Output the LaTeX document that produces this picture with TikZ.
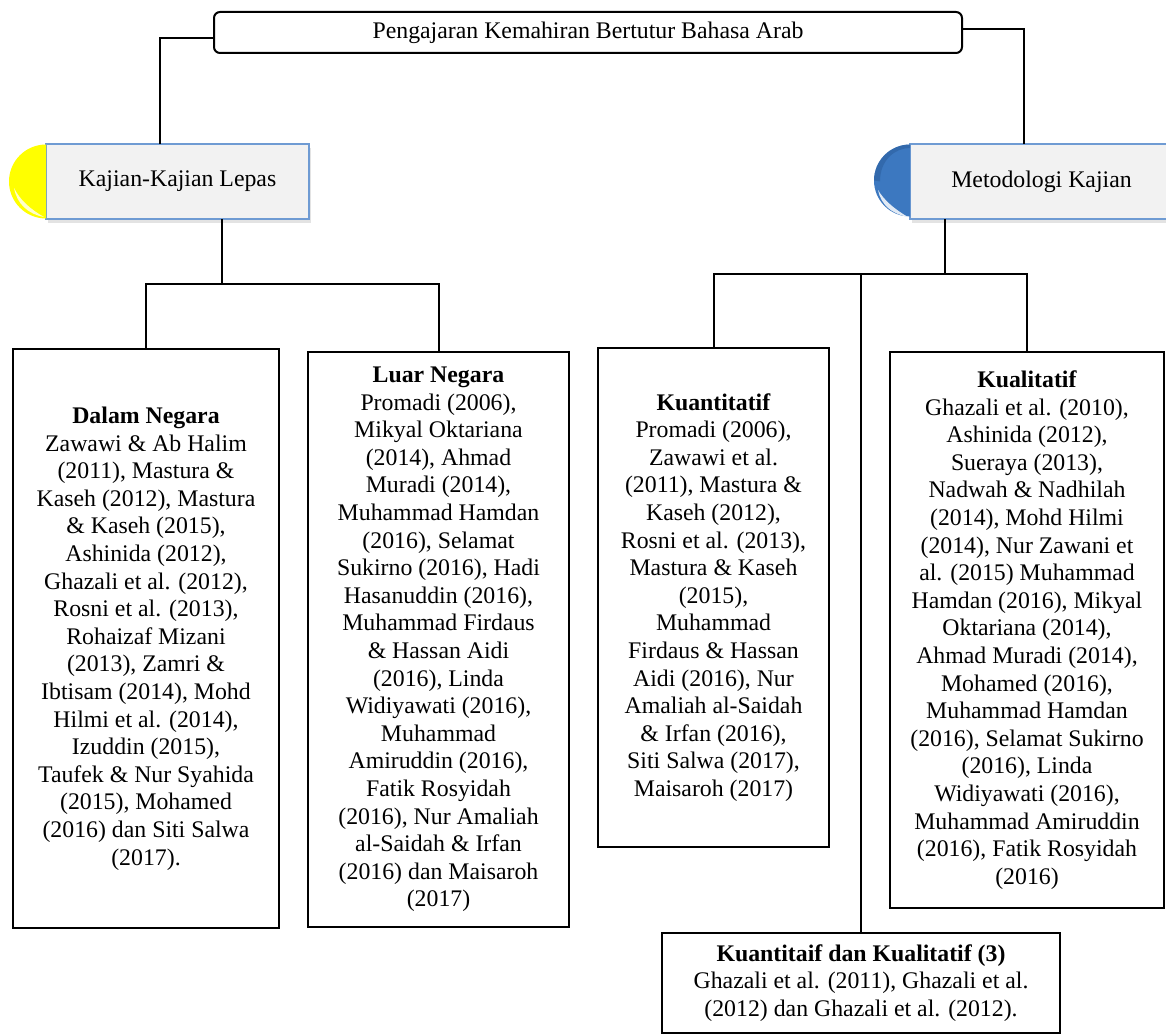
\documentclass[tikz,border=0pt]{standalone}
\usepackage{fontspec}
\setmainfont{Liberation Serif}
\usetikzlibrary{shadows}
\definecolor{boxgray}{HTML}{F2F2F2}
\definecolor{boxblue}{HTML}{6F9BD3}
\definecolor{capblue}{HTML}{3C78C0}
\definecolor{capbluedark}{HTML}{2A5C9A}
\definecolor{capyellow}{HTML}{FFFF00}
\newcommand{\bodyfont}{\fontsize{23.8}{27.6}\selectfont}

\begin{document}
\begin{tikzpicture}[x=1pt,y=-1pt,
  refbox/.style={draw, line width=2pt, align=center, inner sep=0pt, font=\bodyfont},
  capbox/.style={draw=boxblue, line width=1.3pt, fill=boxgray, font=\bodyfont, inner sep=0pt,
    minimum width=263pt, minimum height=75pt,
    drop shadow={opacity=0.22, shadow xshift=2pt, shadow yshift=-4pt}},
  conn/.style={line width=2pt}]
\useasboundingbox (0,0) rectangle (1166,1035);
\fill[white] (0,0) rectangle (1166,1035);
\clip (0,0) rectangle (1166,1035);

% top box
\node[refbox, rounded corners=6pt, minimum width=748pt, minimum height=41pt] (top) at (588,32.5)
  {Pengajaran Kemahiran Bertutur Bahasa Arab};

% category boxes
\node[capbox] (kaj) at (177.5,181.5) {Kajian-Kajian Lepas};
\node[capbox] (met) at (1041.5,181.5) {Metodologi Kajian};

% yellow cap
\fill[capyellow] (46,144.5) arc[start angle=-90, end angle=-270, radius=37];
\fill[white, opacity=0.8] (14,188) .. controls (17,204) and (28,214) .. (44,217)
  .. controls (30,209) and (20,200) .. (14,188) -- cycle;
% blue cap
\fill[capblue] (910,144.5) arc[start angle=-90, end angle=-270, radius=36];
\fill[capbluedark, opacity=0.5] (910,144.5) arc[start angle=-90, end angle=-180, radius=36]
  -- (880,181.5) .. controls (880,160) and (895,148) .. (910,148) -- cycle;
\fill[white, opacity=0.85] (878,190) .. controls (881,205) and (892,214) .. (908,217)
  .. controls (894,209) and (884,200) .. (878,190) -- cycle;

% content boxes
\node[refbox, minimum width=266pt, minimum height=579pt] (dalam) at (146,638.5)
  {\textbf{Dalam Negara}\\Zawawi \& Ab Halim\\(2011), Mastura \&\\Kaseh (2012), Mastura\\\& Kaseh (2015),\\Ashinida (2012),\\Ghazali et al. (2012),\\Rosni et al. (2013),\\Rohaizaf Mizani\\(2013), Zamri \&\\Ibtisam (2014), Mohd\\Hilmi et al. (2014),\\Izuddin (2015),\\Taufek \& Nur Syahida\\(2015), Mohamed\\(2016) dan Siti Salwa\\(2017).};

\node[refbox, minimum width=261pt, minimum height=575pt] (luar) at (438.5,639.5)
  {\textbf{Luar Negara}\\Promadi (2006),\\Mikyal Oktariana\\(2014), Ahmad\\Muradi (2014),\\Muhammad Hamdan\\(2016), Selamat\\Sukirno (2016), Hadi\\Hasanuddin (2016),\\Muhammad Firdaus\\\& Hassan Aidi\\(2016), Linda\\Widiyawati (2016),\\Muhammad\\Amiruddin (2016),\\Fatik Rosyidah\\(2016), Nur Amaliah\\al-Saidah \& Irfan\\(2016) dan Maisaroh\\(2017)};

\node[refbox, minimum width=231pt, minimum height=499pt] (kuan) at (713.5,597.5)
  {\textbf{Kuantitatif}\\Promadi (2006),\\Zawawi et al.\\(2011), Mastura \&\\Kaseh (2012),\\Rosni et al. (2013),\\Mastura \& Kaseh\\(2015),\\Muhammad\\Firdaus \& Hassan\\Aidi (2016), Nur\\Amaliah al-Saidah\\\& Irfan (2016),\\Siti Salwa (2017),\\Maisaroh (2017)};

\node[refbox, minimum width=274pt, minimum height=556pt] (kual) at (1027,630)
  {\textbf{Kualitatif}\\Ghazali et al. (2010),\\Ashinida (2012),\\Sueraya (2013),\\Nadwah \& Nadhilah\\(2014), Mohd Hilmi\\(2014), Nur Zawani et\\al. (2015) Muhammad\\Hamdan (2016), Mikyal\\Oktariana (2014),\\Ahmad Muradi (2014),\\Mohamed (2016),\\Muhammad Hamdan\\(2016), Selamat Sukirno\\(2016), Linda\\Widiyawati (2016),\\Muhammad Amiruddin\\(2016), Fatik Rosyidah\\(2016)};

\node[refbox, minimum width=398pt, minimum height=100pt] (both) at (861,983)
  {\textbf{Kuantitaif dan Kualitatif (3)}\\Ghazali et al. (2011), Ghazali et al.\\(2012) dan Ghazali et al. (2012).};

% connectors
\coordinate (kajin) at (160,144);
\coordinate (metin) at (1024,144);
\coordinate (kajout) at (222,219);
\coordinate (kajbar) at (222,284);
\coordinate (metout) at (945,219);
\coordinate (metbar) at (945,274);

\draw[conn] ([yshift=-6pt]top.west) -| (kajin);
\draw[conn] ([yshift=3pt]top.east) -| (metin);
\draw[conn] (kajout) -- (kajbar);
\draw[conn] (dalam.north) |- (kajbar) -| (luar.north);
\draw[conn] (metout) -- (metbar);
\draw[conn] (kuan.north) |- (metbar) -| (kual.north);
\draw[conn] (both.north) -- (both.north |- metbar);
\end{tikzpicture}
\end{document}
